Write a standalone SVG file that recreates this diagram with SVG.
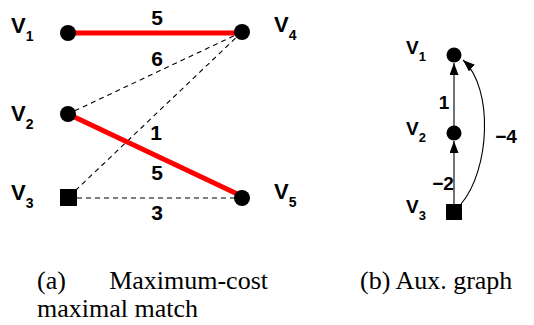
<svg xmlns="http://www.w3.org/2000/svg" width="534" height="325" viewBox="0 0 534 325">
<style>
.lbl{font-family:"Liberation Sans",Arial,sans-serif;font-weight:bold;font-size:22px;fill:#000}
.sub{font-size:14px}
.num{font-family:"Liberation Sans",Arial,sans-serif;font-weight:bold;font-size:21px;fill:#000;text-anchor:middle}
.rl{font-family:"Liberation Sans",Arial,sans-serif;font-weight:bold;font-size:19px;fill:#000}
.rsub{font-size:13px}
.cap{font-family:"Liberation Serif","Times New Roman",serif;font-size:26px;fill:#000}
.dash{stroke:#000;stroke-width:1.1;stroke-dasharray:5,4;fill:none}
.match{stroke:#f00;stroke-width:5;fill:none}
.arc{stroke:#000;stroke-width:1.1;fill:none}
</style>
<defs>
<marker id="ah" markerUnits="userSpaceOnUse" markerWidth="13" markerHeight="10" refX="12" refY="4.5" orient="auto">
<path d="M0,0 L12,4.5 L0,9 z" fill="#000"/>
</marker>
</defs>
<g id="connectors">
<line class="dash" x1="242" y1="32" x2="68" y2="114"/>
<line class="dash" x1="242" y1="32" x2="76" y2="190"/>
<line class="dash" x1="77" y1="198" x2="242" y2="198"/>
<line class="match" x1="68" y1="33" x2="242" y2="33"/>
<line class="match" x1="68" y1="114" x2="248" y2="199"/>
<text class="num" x="157" y="25">5</text>
<text class="num" x="157" y="66">6</text>
<text class="num" x="156" y="140">1</text>
<text class="num" x="157" y="180">5</text>
<text class="num" x="157" y="220">3</text>
<line class="arc" x1="454" y1="126" x2="454" y2="63" marker-end="url(#ah)"/>
<line class="arc" x1="454" y1="204" x2="454" y2="141" marker-end="url(#ah)"/>
<path class="arc" d="M461,204 C490,170 494,88 463,60" marker-end="url(#ah)"/>
<text class="rl" x="444" y="109" text-anchor="middle">1</text>
<text class="rl" x="443" y="190" text-anchor="middle">−2</text>
<text class="rl" x="506" y="143" text-anchor="middle">−4</text>
</g>
<g id="v1"><circle cx="68" cy="33" r="8"/><text class="lbl" x="11" y="33">V<tspan class="sub" dy="8">1</tspan></text></g>
<g id="v2"><circle cx="68" cy="114" r="8"/><text class="lbl" x="11" y="121">V<tspan class="sub" dy="8">2</tspan></text></g>
<g id="v3"><rect x="60" y="189" width="17" height="17"/><text class="lbl" x="11" y="200">V<tspan class="sub" dy="8">3</tspan></text></g>
<g id="v4"><circle cx="242" cy="32" r="8"/><text class="lbl" x="274" y="32">V<tspan class="sub" dy="8">4</tspan></text></g>
<g id="v5"><circle cx="242" cy="198" r="8"/><text class="lbl" x="274" y="199">V<tspan class="sub" dy="8">5</tspan></text></g>
<g id="r1"><circle cx="454" cy="55" r="7.5"/><text class="rl" x="406" y="54">V<tspan class="rsub" dy="7">1</tspan></text></g>
<g id="r2"><circle cx="454" cy="133" r="7.5"/><text class="rl" x="406" y="135">V<tspan class="rsub" dy="7">2</tspan></text></g>
<g id="r3"><rect x="446" y="204" width="16" height="16"/><text class="rl" x="406" y="213">V<tspan class="rsub" dy="7">3</tspan></text></g>
<g id="captions">
<text class="cap" x="37" y="289">(a)</text>
<text class="cap" x="268" y="289" text-anchor="end">Maximum-cost</text>
<text class="cap" x="37" y="317">maximal match</text>
<text class="cap" x="360" y="289">(b) Aux. graph</text>
</g>
</svg>
